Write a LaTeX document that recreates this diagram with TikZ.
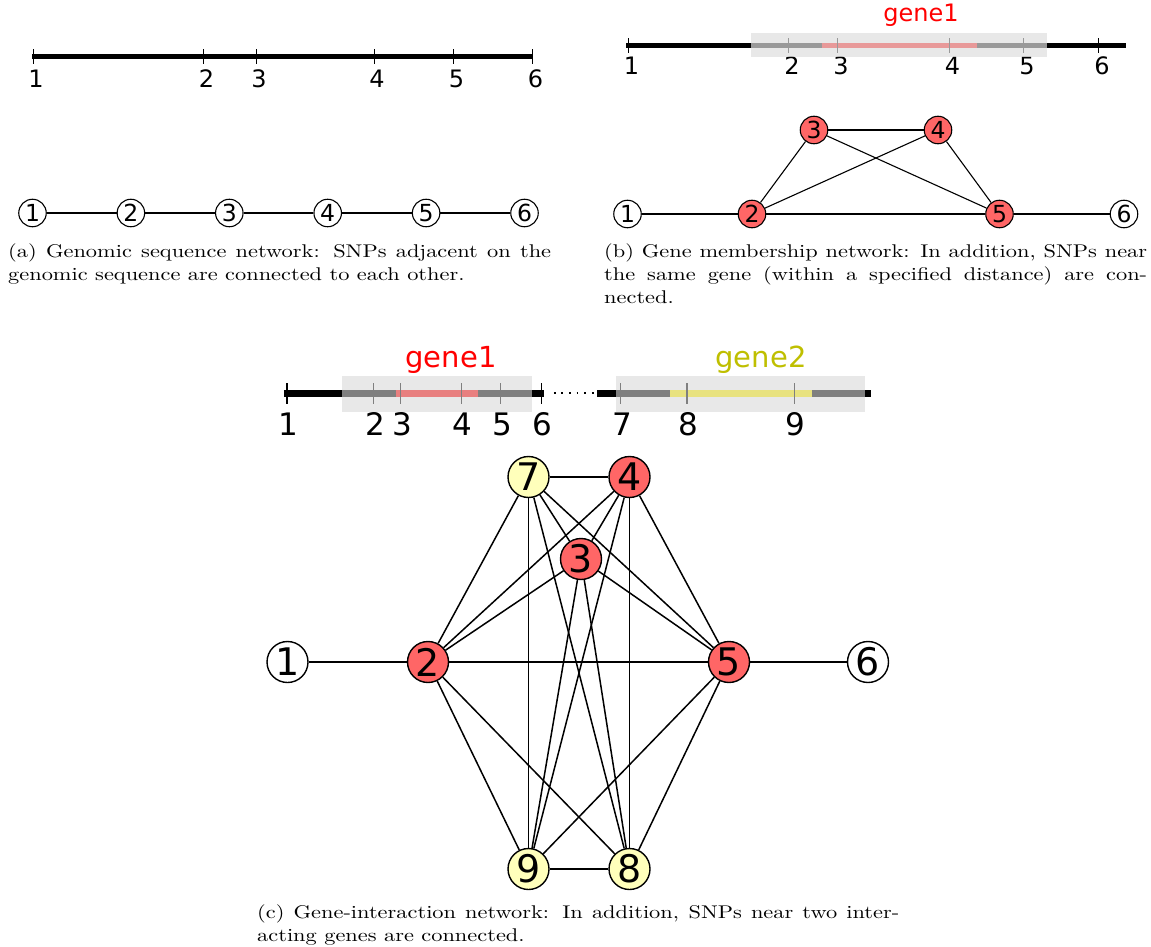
\documentclass[tikz,border=0pt]{standalone}
\usepackage{fontspec}
\usepackage{graphicx}
\newfontfamily\dejavu{DejaVu Sans}
\newfontfamily\capfont{lmroman10-regular.otf}
\definecolor{nodered}{RGB}{255,102,102}
\definecolor{nodeyel}{RGB}{255,255,187}
\definecolor{bandb}{RGB}{222,222,222}
\definecolor{bandc}{RGB}{216,216,216}
\definecolor{geneyel}{RGB}{191,191,0}
\newcommand{\capsize}{\capfont\fontsize{18.4}{23}\selectfont}
\tikzset{
  numlbl/.style={font=\dejavu\fontsize{24}{24}\selectfont, anchor=base, inner sep=0},
  numlblc/.style={font=\dejavu\fontsize{31}{31}\selectfont, anchor=base, inner sep=0},
  tickmark/.style={line width=1},
  snpsmall/.style={circle, draw, line width=1.1, minimum size=27.5, inner sep=0, font=\dejavu\fontsize{23.5}{23.5}\selectfont},
  snpbig/.style={circle, draw, line width=1.4, minimum size=41, inner sep=0, font=\dejavu\fontsize{38}{38}\selectfont},
  edgesmall/.style={line width=1.1},
  edgebig/.style={line width=1.5},
  capnode/.style={anchor=base west, inner sep=0},
}
\begin{document}
\begin{tikzpicture}[x=1pt,y=-1pt]
\fill[white] (0,0) rectangle (1151,947);
\path[use as bounding box] (0,0) rectangle (1151,947);

% ---------------- panel (a) ----------------
\draw[line width=4.6] (32,56.3) -- (533,56.3);
\foreach \x/\t [count=\i] in {33/1,203.5/2,256/3,374/4,453.5/5,532.5/6}{
  \draw[tickmark] (\x,49.3) -- (\x,64);
  \node[numlbl] (la\i) at (\x+3,88) {\t};
}
\foreach \i in {1,...,6}{
  \node[snpsmall] (a\i) at ({32.5+98.4*(\i-1)},213) {\i};
}
\foreach \i/\j in {1/2,2/3,3/4,4/5,5/6}{
  \draw[edgesmall] (a\i) -- (a\j);
}
\node[capnode] (capa) at (8,257.7) {\scalebox{1.216}[1]{\parbox[t]{446.5pt}{\capsize
\makebox[446.5pt][s]{(a) Genomic sequence network: SNPs adjacent on the}\\
genomic sequence are connected to each other.}}};

% ---------------- panel (b) ----------------
\draw[line width=5] (626,45.3) -- (1126,45.3);
\draw[red, line width=5] (821.7,45.3) -- (976.7,45.3);
\foreach \x/\t [count=\i] in {628/1,788.5/2,837.5/3,949/4,1023.5/5,1098.5/6}{
  \draw[tickmark] (\x,38.3) -- (\x,53.3);
  \node[numlbl] (lb\i) at (\x+3.5,75) {\t};
}
\fill[bandb, opacity=0.69] (751,33.3) rectangle (1047,57.3);
\node[font=\dejavu\fontsize{24}{24}\selectfont, text=red, anchor=base, inner sep=0] (g1b) at (921,22) {gene1};

\node[snpsmall] (b1) at (627.5,214) {1};
\node[snpsmall, fill=nodered] (b2) at (752,214) {2};
\node[snpsmall, fill=nodered] (b3) at (814,130) {3};
\node[snpsmall, fill=nodered] (b4) at (938,130) {4};
\node[snpsmall, fill=nodered] (b5) at (999.5,214) {5};
\node[snpsmall] (b6) at (1124,214) {6};
\foreach \i/\j in {1/2,2/5,5/6,2/3,2/4,3/4,3/5,4/5}{
  \draw[edgesmall] (b\i) -- (b\j);
}
\node[capnode] (capb) at (604,257.7) {\scalebox{1.216}[1]{\parbox[t]{446.5pt}{\capsize
\makebox[446.5pt][s]{(b) Gene membership network: In addition, SNPs near}\\
\makebox[446.5pt][s]{the same gene (within a specified distance) are con-}\\
nected.}}};

% ---------------- panel (c) ----------------
\draw[line width=6.5] (283.8,393.3) -- (544,393.3);
\draw[line width=6.5] (597.3,393.3) -- (870.8,393.3);
\draw[line width=1.8, dash pattern=on 1.8pt off 5.8pt] (553.8,393.3) -- (593.6,393.3);
\draw[red, line width=6.5] (395.7,393.3) -- (478.3,393.3);
\draw[yellow, line width=6.5] (670,393.3) -- (811.5,393.3);
\foreach \x/\t [count=\i] in {287/1,373.6/2,400.4/3,461.3/4,500.4/5,541.1/6,620.6/7,687/8,794.1/9}{
  \draw[line width=1.2] (\x,383) -- (\x,404);
  \node[numlblc] (lc\i) at (\x+1.5,435) {\t};
}
\fill[bandc, opacity=0.59] (342.3,376) rectangle (532,411.7);
\fill[bandc, opacity=0.59] (616.2,376) rectangle (864.9,411.7);
\node[font=\dejavu\fontsize{29}{29}\selectfont, text=red, anchor=base, inner sep=0] (g1c) at (451,367.5) {gene1};
\node[font=\dejavu\fontsize{29}{29}\selectfont, text=geneyel, anchor=base, inner sep=0] (g2c) at (761,367.5) {gene2};

\node[snpbig] (c1) at (287.5,662) {1};
\node[snpbig, fill=nodered] (c2) at (428,662) {2};
\node[snpbig, fill=nodered] (c3) at (581,559) {3};
\node[snpbig, fill=nodered] (c4) at (629.5,477) {4};
\node[snpbig, fill=nodered] (c5) at (729,662) {5};
\node[snpbig] (c6) at (868,662) {6};
\node[snpbig, fill=nodeyel] (c7) at (528.5,477) {7};
\node[snpbig, fill=nodeyel] (c8) at (629.5,869) {8};
\node[snpbig, fill=nodeyel] (c9) at (528.5,869) {9};
\foreach \i/\j in {1/2,2/5,5/6,7/4,9/8,7/2,7/9,7/8,7/3,7/5,4/2,4/9,4/8,4/5,4/3,3/2,3/5,3/9,3/8,2/9,2/8,5/9,5/8}{
  \draw[edgebig] (c\i) -- (c\j);
}
\node[capnode] (capc) at (257,918.7) {\scalebox{1.216}[1]{\parbox[t]{528pt}{\capsize
\makebox[528pt][s]{(c) Gene-interaction network: In addition, SNPs near two inter-}\\
acting genes are connected.}}};
\end{tikzpicture}
\end{document}
